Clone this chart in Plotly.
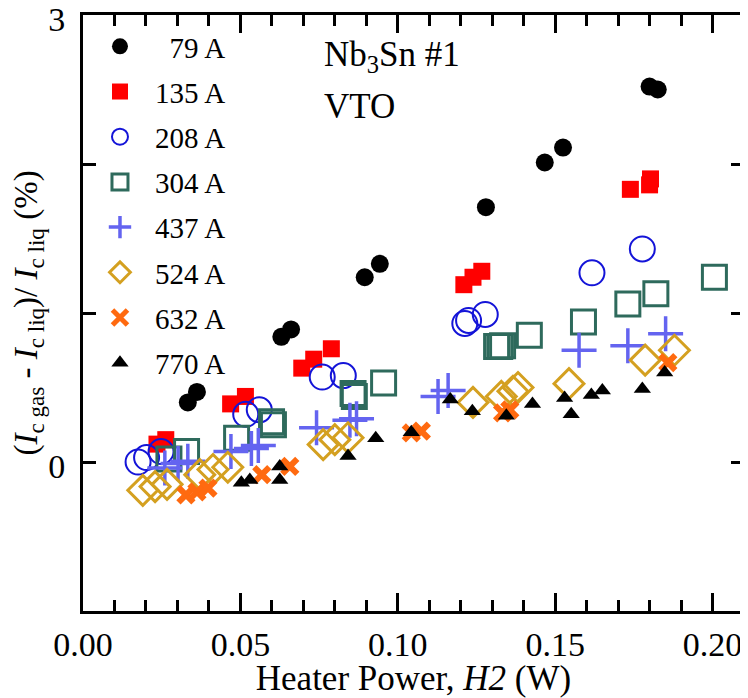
import plotly.graph_objects as go

# ---- data ----
names = ["79 A", "135 A", "208 A", "304 A", "437 A", "524 A", "632 A", "770 A"]

x79 = [0.0333, 0.0362, 0.0630, 0.0661, 0.0895, 0.0943, 0.1280, 0.1467, 0.1525, 0.1800, 0.1826]
y79 = [0.40, 0.47, 0.84, 0.89, 1.24, 1.33, 1.71, 2.01, 2.11, 2.52, 2.50]

x135 = [0.0235, 0.0263, 0.0469, 0.0516, 0.0695, 0.0733, 0.0789, 0.1210, 0.1239, 0.1267, 0.1739, 0.1800, 0.1803]
y135 = [0.12, 0.15, 0.39, 0.44, 0.63, 0.69, 0.76, 1.19, 1.24, 1.28, 1.83, 1.86, 1.90]

x208 = [0.0175, 0.0202, 0.0248, 0.0517, 0.0560, 0.0760, 0.0827, 0.1213, 0.1225, 0.1278, 0.1617, 0.1777]
y208 = [0.00, 0.03, 0.07, 0.32, 0.35, 0.57, 0.58, 0.93, 0.95, 0.99, 1.27, 1.43]

x304 = [0.0273, 0.0329, 0.0488, 0.0599, 0.0605, 0.0858, 0.0862, 0.0955, 0.1314, 0.1324, 0.1333, 0.1418, 0.1590, 0.1731, 0.1820, 0.2006]
y304 = [0.02, 0.07, 0.16, 0.27, 0.25, 0.46, 0.44, 0.53, 0.775, 0.775, 0.78, 0.85, 0.94, 1.06, 1.13, 1.24]

x437 = [0.0260, 0.0302, 0.0333, 0.0470, 0.0535, 0.0557, 0.0742, 0.0848, 0.0869, 0.1128, 0.1160, 0.1576, 0.1731, 0.1851]
y437 = [-0.04, -0.01, 0.005, 0.07, 0.09, 0.11, 0.23, 0.28, 0.29, 0.44, 0.48, 0.75, 0.78, 0.86]

x524 = [0.0190, 0.0229, 0.0267, 0.0371, 0.0413, 0.0460, 0.0763, 0.0800, 0.0842, 0.1239, 0.1329, 0.1366, 0.1382, 0.1544, 0.1786, 0.1879]
y524 = [-0.19, -0.165, -0.15, -0.085, -0.05, -0.035, 0.117, 0.15, 0.163, 0.40, 0.44, 0.475, 0.50, 0.526, 0.684, 0.75]

x632 = [0.0327, 0.0362, 0.0397, 0.0568, 0.0657, 0.1043, 0.1075, 0.1333, 0.1356, 0.1858]
y632 = [-0.22, -0.20, -0.175, -0.085, -0.03, 0.196, 0.207, 0.33, 0.35, 0.667]

x770 = [0.0503, 0.0530, 0.0625, 0.0625, 0.0842, 0.0930, 0.1043, 0.1167, 0.1237, 0.1345, 0.1428, 0.1530, 0.1551, 0.1615, 0.1650, 0.1777, 0.1848]
y770 = [-0.14, -0.12, -0.03, -0.12, 0.04, 0.16, 0.20, 0.42, 0.34, 0.31, 0.39, 0.43, 0.32, 0.45, 0.48, 0.49, 0.60]

ytick_vals = [-1, 0, 1, 2, 3]
ytick_text = ["", "0", "", "", "3"]

FONT = "Liberation Serif, Times New Roman, serif"

series = [
    (x79, y79, dict(symbol="circle", size=18, color="black")),
    (x135, y135, dict(symbol="square", size=17, color="#ff0000")),
    (x208, y208, dict(symbol="circle-open", size=25, color="#1414d8", line=dict(width=2))),
    (x304, y304, dict(symbol="square-open", size=24, color="#2e6a5c", line=dict(width=3))),
    (x437, y437, dict(symbol="cross-thin", size=25, color="#6464f0", line=dict(width=3.5, color="#6464f0"))),
    (x524, y524, dict(symbol="diamond-open", size=23, color="#d4a020", line=dict(width=3))),
    (x632, y632, dict(symbol="x-thin", size=15, color="#ff6a10", line=dict(width=6, color="#ff6a10"))),
    (x770, y770, dict(symbol="triangle-up", size=15, color="black")),
]

fig = go.Figure()
for i, (xs, ys, mk) in enumerate(series):
    label = names[i]
    if len(label) == 4:
        label = "\u2007" + label
    fig.add_trace(go.Scatter(x=xs, y=ys, mode="markers", name=label, marker=mk,
                             legendgroup=str(i)))

fig.add_annotation(x=0.0758, y=2.72, xref="x", yref="y", text="Nb<sub>3</sub>Sn #1",
                   showarrow=False, xanchor="left", yanchor="middle",
                   font=dict(family=FONT, size=35, color="black"))
fig.add_annotation(x=0.0758, y=2.385, xref="x", yref="y", text="VTO",
                   showarrow=False, xanchor="left", yanchor="middle",
                   font=dict(family=FONT, size=35, color="black"))

axis_common = dict(showline=True, linewidth=3, linecolor="black", mirror="allticks",
                   ticks="inside", tickwidth=3, tickcolor="black", showgrid=False,
                   zeroline=False, automargin=False, ticklabeloverflow="allow",
                   tickfont=dict(family=FONT, size=34, color="black"))

fig.update_xaxes(range=[0, 0.21], dtick=0.05, tick0=0, tickformat=".2f", ticklen=18,
                 minor=dict(dtick=0.01, ticks="inside", ticklen=11, tickwidth=3, tickcolor="black"),
                 title=dict(text="Heater Power, <i>H2</i> (W)", font=dict(family=FONT, size=35, color="black"),
                            standoff=7),
                 ticklabelstandoff=1,
                 **axis_common)
fig.update_yaxes(range=[-1, 3], tickvals=ytick_vals, ticktext=ytick_text, ticklen=13,
                 title=dict(text="(<i>I</i><sub>c gas</sub> - <i>I</i><sub>c liq</sub>)/ <i>I</i><sub>c liq</sub> (%)",
                            font=dict(family=FONT, size=33, color="black"), standoff=4),
                 ticklabelstandoff=8, ticklabelshift=4,
                 **axis_common)

# the page adds an 8 px body margin, so the figure is drawn 8 px smaller and shifted
fig.update_layout(
    width=740, height=690,
    margin=dict(l=75, r=4, t=7, b=87),
    paper_bgcolor="white", plot_bgcolor="white",
    font=dict(family=FONT, color="black"),
    showlegend=True,
    legend=dict(x=0.003, y=0.990, xanchor="left", yanchor="top", bgcolor="rgba(0,0,0,0)",
                borderwidth=0, font=dict(family=FONT, size=29, color="black"),
                itemwidth=60, tracegroupgap=4.5, traceorder="grouped", maxheight=650),
)

fig.write_html("out.html")
